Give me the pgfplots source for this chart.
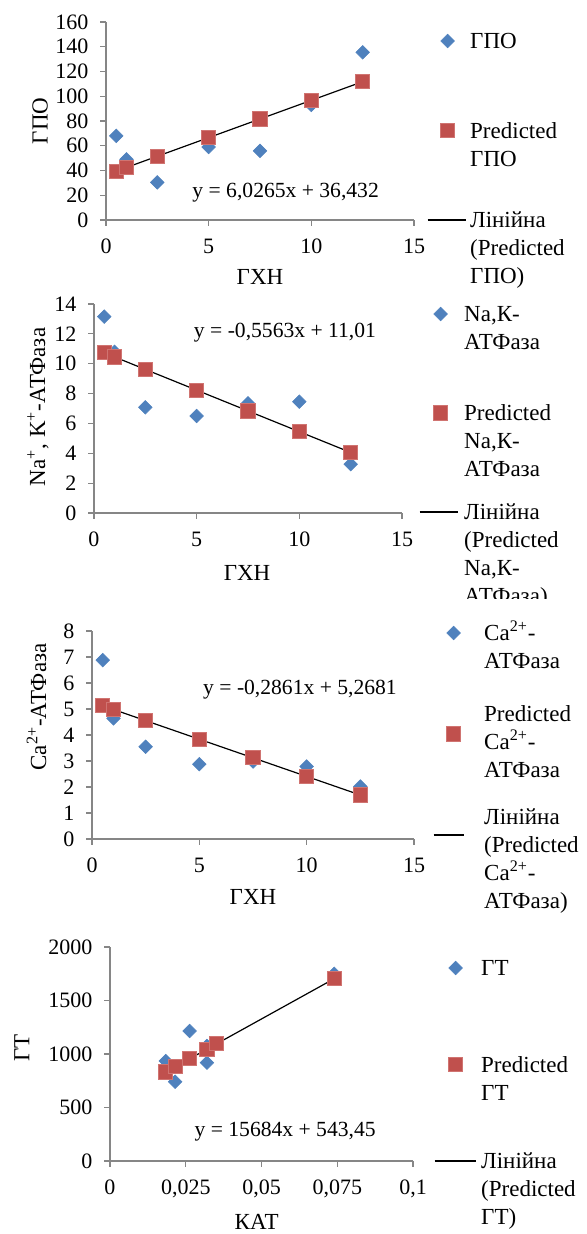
\documentclass[border=0pt]{standalone}
\usepackage{pgfplots}
\pgfplotsset{compat=1.18}
\usepackage{fontspec}
\setmainfont{Liberation Serif}
\definecolor{myblue}{RGB}{79,129,189}
\definecolor{myred}{RGB}{192,80,77}
\definecolor{myredb}{RGB}{208,116,113}
\definecolor{axgray}{RGB}{134,134,134}
\newcommand\legtxt[2][0pt]{\raisebox{\dimexpr -3.8pt + #1\relax}{\begin{tabular}[t]{@{}l@{}}#2\end{tabular}}}
\pgfplotsset{
  base/.style={
    scale only axis, clip=false,
    axis x line*=bottom, axis y line*=left,
    axis line style={draw=axgray, line width=0.6pt},
    tick style={draw=axgray, line width=0.6pt},
    tick align=outside, major tick length=2.8pt,
    xmin=0, ymin=0,
    tick label style={font=\fontsize{11}{13}\selectfont, /pgf/number format/assume math mode=true, /pgf/number format/1000 sep={}},
    xticklabel style={yshift=-3.3pt},
    yticklabel style={xshift=-2.5pt},
    every axis x label/.style={at={(axis description cs:0.5,-0.288)}, anchor=center, font=\fontsize{11.5}{14}\selectfont},
    every axis y label/.style={at={(axis description cs:-0.214,0.5)}, rotate=90, anchor=center, font=\fontsize{11.5}{14}\selectfont},
    legend cell align=left,
    legend style={draw=none, fill=none, inner sep=0pt, outer sep=0pt, anchor=north west, cells={anchor=west}, nodes={inner sep=0pt, text height=5pt, text depth=5pt}, font=\fontsize{11.5}{14}\selectfont},
  },
  obs/.style={only marks, mark=square*, mark size=2.4pt, mark options={rotate=45, fill=myblue, draw=myblue, line width=0.3pt}},
  pred/.style={only marks, mark=square*, mark size=3.55pt, mark options={fill=myred, draw=myredb, line width=0.5pt}},
  trend/.style={black, line width=0.6pt, mark=none},
  legmark/.style={legend image code/.code={\draw[mark repeat=2,mark phase=2,##1] plot coordinates {(0pt,0pt) (#1,0pt) (20pt,0pt)};}},
  legline/.style={legend image code/.code={\draw[##1] (0pt,0pt) -- (#1,0pt);}},
}
\begin{document}
\begin{tikzpicture}
\path[use as bounding box] (0,0) rectangle (293.5pt,-617pt);

% ---------- Panel 1 ----------
\begin{axis}[base, at={(53pt,-110pt)}, anchor=south west, width=154pt, height=99pt,
  xmax=15, ymax=160, xtick={0,5,10,15}, ytick={0,20,...,160},
  xlabel={ГХН}, ylabel={ГПО},
  every axis x label/.append style={at={(axis description cs:0.5,-0.288)}},
  every axis y label/.append style={at={(axis description cs:-0.214,0.5)}},
  legend style={at={(axis description cs:1.0422,0.9545)}, row sep=34.75pt, column sep=2pt}]
\addplot[obs, legmark=10pt] coordinates {(0.5,68) (1,49) (2.5,30.4) (5,59) (7.5,55.8) (10,93) (12.5,135.5)};
\addlegendentry{\legtxt{ГПО}}
\addplot[pred, legmark=10pt] coordinates {(0.5,39.45) (1,42.46) (2.5,51.50) (5,66.56) (7.5,81.63) (10,96.70) (12.5,111.76)};
\addlegendentry{\legtxt{Predicted\\ГПО}}
\addplot[trend, legline=19pt] coordinates {(0.5,39.45) (12.5,111.76)};
\addlegendentry{\legtxt{Лінійна\\(Predicted\\ГПО)}}
\node[font=\fontsize{10.8}{13}\selectfont] at (axis cs:8.75,22) {y = 6,0265x + 36,432};
\end{axis}

% ---------- Panel 2 ----------
\begin{axis}[base, at={(47pt,-256.5pt)}, anchor=south west, width=154pt, height=104.5pt,
  xmax=15, ymax=14, xtick={0,5,10,15}, ytick={0,2,...,14},
  xlabel={ГХН}, ylabel={Na\textsuperscript{+}, K\textsuperscript{+}-АТФаза},
  every axis x label/.append style={at={(axis description cs:0.497,-0.287)}},
  every axis y label/.append style={at={(axis description cs:-0.182,0.507)}},
  legend style={at={(axis description cs:1.0552,1.0)}, row sep=39.5pt, column sep=3pt}]
\addplot[obs, legmark=10.5pt] coordinates {(0.5,13.15) (1,10.8) (2.5,7.08) (5,6.5) (7.5,7.35) (10,7.46) (12.5,3.27)};
\addlegendentry{\legtxt{Na,К-\\АТФаза}}
\addplot[pred, legmark=10.5pt] coordinates {(0.5,10.732) (1,10.454) (2.5,9.619) (5,8.229) (7.5,6.838) (10,5.447) (12.5,4.056)};
\addlegendentry{\legtxt{Predicted\\Na,К-\\АТФаза}}
\addplot[trend, legline=19pt] coordinates {(0.5,10.732) (12.5,4.056)};
\addlegendentry{\legtxt{Лінійна\\(Predicted\\Na,К-\\АТФаза)}}
\node[font=\fontsize{10.8}{13}\selectfont] at (axis cs:9.30,12.08) {y = -0,5563x + 11,01};
\end{axis}
\fill[white] (200pt,-299.5pt) rectangle (293.5pt,-306pt);

% ---------- Panel 3 ----------
\begin{axis}[base, at={(46pt,-419.5pt)}, anchor=south west, width=161pt, height=104pt,
  xmax=15, ymax=8, xtick={0,5,10,15}, ytick={0,1,...,8},
  xlabel={ГХН}, ylabel={Ca\textsuperscript{2+}-АТФаза},
  every axis x label/.append style={at={(axis description cs:0.5,-0.279)}},
  every axis y label/.append style={at={(axis description cs:-0.172,0.635)}},
  legend style={at={(axis description cs:1.059,1.0385)}, row sep=40.5pt, column sep=10pt}]
\addplot[obs, legmark=10pt] coordinates {(0.5,6.88) (1,4.64) (2.5,3.55) (5,2.88) (7.5,2.98) (10,2.79) (12.5,2.02)};
\addlegendentry{\legtxt{Ca\textsuperscript{2+}-\\АТФаза}}
\addplot[pred, legmark=10pt] coordinates {(0.5,5.125) (1,4.982) (2.5,4.553) (5,3.838) (7.5,3.122) (10,2.407) (12.5,1.692)};
\addlegendentry{\legtxt[10pt]{Predicted\\Ca\textsuperscript{2+}-\\АТФаза}}
\addplot[trend, legline=15pt] coordinates {(0.5,5.125) (12.5,1.692)};
\addlegendentry{\legtxt[9pt]{Лінійна\\(Predicted\\Ca\textsuperscript{2+}-\\АТФаза)}}
\node[font=\fontsize{10.8}{13}\selectfont] at (axis cs:9.69,5.73) {y = -0,2861x + 5,2681};
\end{axis}

% ---------- Panel 4 ----------
\begin{axis}[base, at={(55pt,-580.5pt)}, anchor=south west, width=151.5pt, height=107pt,
  xmax=0.1, ymax=2000, scaled x ticks=false, scaled y ticks=false,
  xtick={0,0.025,0.05,0.075,0.1}, xticklabels={0,{0,025},{0,05},{0,075},{0,1}},
  ytick={0,500,...,2000},
  xlabel={КАТ}, ylabel={ГТ},
  every axis x label/.append style={at={(axis description cs:0.484,-0.284)}},
  every axis y label/.append style={at={(axis description cs:-0.291,0.528)}},
  legend style={at={(axis description cs:1.0693,0.9486)}, row sep=38.25pt, column sep=2.5pt}]
\addplot[obs, legmark=10.5pt] coordinates {(0.0184,935) (0.0215,741) (0.0263,1215) (0.0320,919) (0.0320,1075) (0.0352,1100) (0.074,1750)};
\addlegendentry{\legtxt{ГТ}}
\addplot[pred, legmark=10.5pt] coordinates {(0.0184,832.0) (0.0215,880.7) (0.0263,955.9) (0.0320,1045.3) (0.0320,1045.3) (0.0352,1095.5) (0.074,1704.1)};
\addlegendentry{\legtxt{Predicted\\ГТ}}
\addplot[trend, legline=20.5pt] coordinates {(0.0184,832.0) (0.074,1704.1)};
\addlegendentry{\legtxt{Лінійна\\(Predicted\\ГТ)}}
\node[font=\fontsize{10.8}{13}\selectfont] at (axis cs:0.0578,274) {y = 15684x + 543,45};
\end{axis}
\end{tikzpicture}
\end{document}
